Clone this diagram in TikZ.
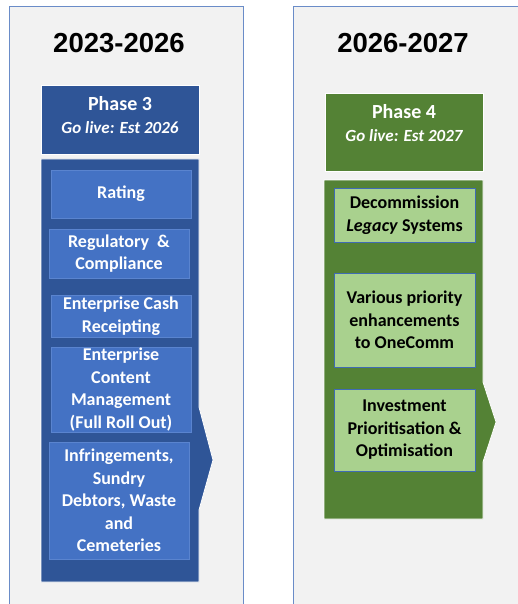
\documentclass[tikz,border=0pt]{standalone}
\usepackage{fontspec}
\setmainfont{Carlito}
\newfontfamily\arialfont{Liberation Sans}

\definecolor{panelgray}{HTML}{F2F2F2}
\definecolor{paneledge}{HTML}{6A8CC8}
\definecolor{phaseblue}{HTML}{2F5597}
\definecolor{itemblue}{HTML}{4472C4}
\definecolor{itemedge}{HTML}{5A84CF}
\definecolor{phasegreen}{HTML}{548235}
\definecolor{itemgreen}{HTML}{A9D18E}
\definecolor{greenedge}{HTML}{3F6BB4}

\begin{document}
\begin{tikzpicture}[x=1pt, y=-1pt,
                panel/.style={rectangle, draw=paneledge, fill=panelgray, line width=1pt},
                title/.style={font=\arialfont\fontsize{27.5}{32}\selectfont\bfseries},
                phasebox/.style={rectangle, draw=white, line width=0.8pt, minimum width=158pt, inner sep=0pt},
                phasetext/.style={align=center, text=white, font=\fontsize{20}{24}\selectfont\bfseries},
                item/.style={rectangle, draw=itemedge, fill=itemblue, line width=0.8pt, minimum width=140pt,
                        inner sep=0pt, align=center, text=white, font=\fontsize{18}{22.5}\selectfont\bfseries},
                greenitem/.style={item, draw=greenedge, fill=itemgreen, minimum width=141pt, text=black}
            ]
            \useasboundingbox (0,0) rectangle (517,604);

            % Panels
            \draw[panel] (9,7) rectangle (243,607);
            \draw[panel] (293,7) rectangle (520,607);
            \node[title] (years3) at (119,43) {2023-2026};
            \node[title] (years4) at (403,43) {2026-2027};

            % Phase 3
            \node[phasebox, fill=phaseblue, minimum height=69pt] (ph3) at (120,119.5) {};
            \node[phasetext] (ph3txt) at ([yshift=4pt]ph3.center) {Phase 3\\[-1pt]
                    {\fontsize{17}{20}\selectfont\itshape Go live: Est 2026}};
            \filldraw[draw=white, fill=phaseblue, line width=0.8pt]
                (41,159) -- (199,159) -- (199,407) -- (213,460) -- (199,510) -- (199,582) -- (41,582) -- cycle;

            \node[item, minimum height=48pt] (rating) at (121,194) {Rating};
            \node[item, minimum height=49pt] (regul) at (119,253.5) {Regulatory\ \ \&\\Compliance};
            \node[item, minimum height=42pt] (cash) at (121,316) {Enterprise Cash\\Receipting};
            \node[item, minimum height=85pt] (ecm) at (121,389.5) {Enterprise\\Content\\Management\\(Full Roll Out)};
            \node[item, minimum height=117pt] (infr) at (119,500.5) {Infringements,\\Sundry\\Debtors, Waste\\and\\Cemeteries};

            % Phase 4
            \node[phasebox, fill=phasegreen, minimum height=78pt] (ph4) at (404,132) {};
            \node[phasetext] (ph4txt) at ([yshift=8.5pt]ph4.center) {Phase 4\\[-1pt]
                    {\fontsize{17}{20}\selectfont\itshape Go live: Est 2027}};
            \filldraw[draw=white, fill=phasegreen, line width=0.8pt]
                (324,180) -- (483,180) -- (483,382) -- (496,422) -- (483,462) -- (483,519) -- (324,519) -- cycle;

            \node[greenitem, minimum height=54pt] (decom) at (404.5,215) {Decommission\\\textit{Legacy} Systems};
            \node[greenitem, minimum height=94pt] (enh) at (404.5,320) {Various priority\\enhancements\\to OneComm};
            \node[greenitem, minimum height=82pt] (invest) at (404.5,430) {Investment\\Prioritisation \&\\Optimisation};

        \end{tikzpicture}
\end{document}
